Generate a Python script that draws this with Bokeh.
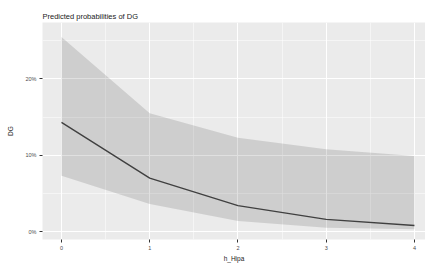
from bokeh.plotting import figure
from bokeh.models import Range1d, FixedTicker, NumeralTickFormatter
from bokeh.embed import file_html
from bokeh.resources import INLINE

# data
x_vals = [0, 1, 2, 3, 4]
predicted = [0.143, 0.070, 0.034, 0.016, 0.008]
upper = [0.255, 0.155, 0.123, 0.108, 0.099]
lower = [0.073, 0.036, 0.014, 0.005, 0.003]
x_ticks = [0, 1, 2, 3, 4]
y_ticks = [0.0, 0.1, 0.2]

FONT = "Liberation Sans"

p = figure(width=425, height=264, output_backend="svg", toolbar_location=None,
           x_range=Range1d(-0.215, 4.125), y_range=Range1d(-0.0104, 0.274),
           min_border_left=42, min_border_right=0, min_border_top=22, min_border_bottom=23,
           title="Predicted probabilities of DG")
p.background_fill_color = "#EBEBEB"
p.border_fill_color = "white"
p.outline_line_color = None

p.title.text_font = FONT
p.title.text_font_size = "7.5px"
p.title.text_font_style = "normal"
p.title.text_color = "#222222"
p.title.standoff = 4
p.title.offset = 0

p.xaxis.ticker = FixedTicker(ticks=x_ticks, minor_ticks=[-0.5, 0.5, 1.5, 2.5, 3.5, 4.5])
p.yaxis.ticker = FixedTicker(ticks=y_ticks, minor_ticks=[0.05, 0.15, 0.25])
p.yaxis.formatter = NumeralTickFormatter(format="0%")

for ax in (p.xaxis, p.yaxis):
    ax.axis_line_color = None
    ax.major_tick_line_color = "#333333"
    ax.major_tick_out = 3
    ax.major_tick_in = 0
    ax.minor_tick_line_color = None
    ax.major_label_text_font = FONT
    ax.major_label_text_font_size = "5.5px"
    ax.major_label_text_color = "#4D4D4D"
    ax.major_label_standoff = 2
    ax.axis_label_text_font = FONT
    ax.axis_label_text_font_size = "6.5px"
    ax.axis_label_text_font_style = "normal"
    ax.axis_label_text_color = "#222222"
    ax.axis_label_standoff = 2

p.xaxis.axis_label = "h_Hipa"
p.yaxis.axis_label = "DG"
p.yaxis.axis_label_standoff = 8

p.grid.grid_line_color = "white"
p.grid.grid_line_width = 1
p.grid.minor_grid_line_color = "white"
p.grid.minor_grid_line_width = 0.5

p.varea(x=x_vals, y1=lower, y2=upper, fill_color="black", fill_alpha=0.12)
p.line(x=x_vals, y=predicted, line_color="#404040", line_width=1.4)

open("out.html", "w").write(file_html(p, INLINE))
